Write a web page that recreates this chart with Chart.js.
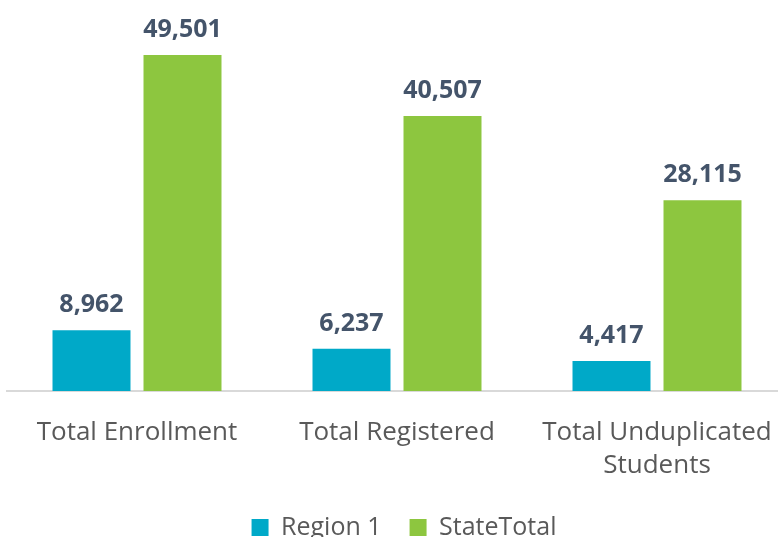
<!DOCTYPE html>
<html>
<head>
<meta charset="utf-8">
<script src="https://cdn.jsdelivr.net/npm/chart.js@4"></script>
<style>
html,body{margin:0;padding:0;overflow:hidden;background:#fff;width:778px;height:537px;}
#wrap{width:822px;height:550px;position:relative;}
</style>
</head>
<body>
<div id="wrap"><canvas id="c"></canvas></div>
<script>
const categories = [["Total Enrollment"], ["Total Registered"], ["Total Unduplicated", "Students"]];
const region1 = [8962, 6237, 4417];
const stateTotal = [49501, 40507, 28115];
const seriesNames = ["Region 1", "StateTotal"];

const labelPlugin = {
  id: 'barLabels',
  afterLayout(chart) {
    if (chart.legend) { chart.legend.left += 7; chart.legend.right += 7; }
  },
  afterDatasetsDraw(chart) {
    const ctx = chart.ctx;
    ctx.save();
    ctx.font = 'bold 25px "Open Sans"';
    ctx.fillStyle = '#44546A';
    ctx.textAlign = 'center';
    ctx.textBaseline = 'alphabetic';
    chart.data.datasets.forEach((ds, i) => {
      chart.getDatasetMeta(i).data.forEach((bar, j) => {
        ctx.fillText(ds.data[j].toLocaleString('en-US'), bar.x, bar.y - 18);
      });
    });
    ctx.restore();
  }
};

new Chart(document.getElementById('c'), {
  type: 'bar',
  data: {
    labels: categories,
    datasets: [
      {label: seriesNames[0], data: region1, backgroundColor: '#00A9C8', categoryPercentage: 0.7, barPercentage: 0.857},
      {label: seriesNames[1], data: stateTotal, backgroundColor: '#8DC63F', categoryPercentage: 0.7, barPercentage: 0.857}
    ]
  },
  options: {
    responsive: true,
    maintainAspectRatio: false,
    animation: false,
    layout: {padding: {left: 7, right: 35, top: 0, bottom: 0}},
    plugins: {
      legend: {
        position: 'bottom',
        labels: {
          font: {family: '"Open Sans"', size: 25},
          color: '#595959',
          boxWidth: 17, boxHeight: 17,
          padding: 28
        }
      },
      tooltip: {enabled: false}
    },
    scales: {
      x: {
        grid: {display: false, drawTicks: false},
        border: {display: true, color: '#D9D9D9', width: 2},
        ticks: {font: {family: '"Open Sans"', size: 26, lineHeight: 1.27}, color: '#595959', padding: 25, maxRotation: 0},
        afterFit(scale) { scale.height = 96; }
      },
      y: {
        display: false,
        min: 0,
        max: 57600
      }
    }
  },
  plugins: [labelPlugin]
});
</script>
</body>
</html>
